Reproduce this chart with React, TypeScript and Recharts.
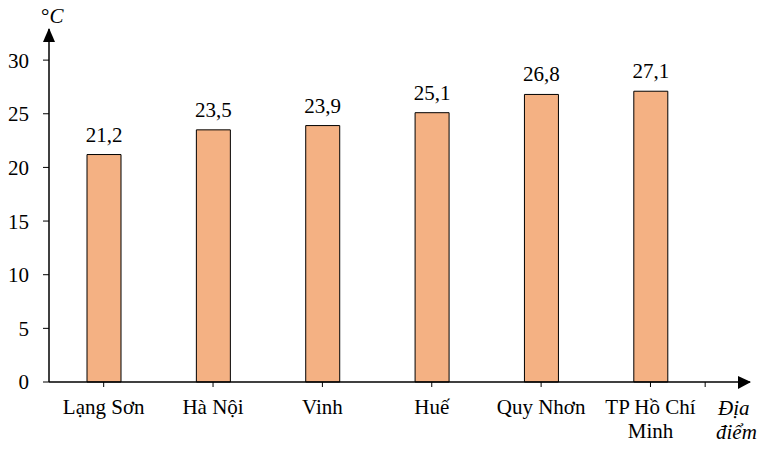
import { BarChart, Bar, XAxis, YAxis, LabelList } from 'recharts';

// Nhiệt độ trung bình năm (°C) tại một số địa điểm
const CATEGORIES = ['Lạng Sơn', 'Hà Nội', 'Vinh', 'Huế', 'Quy Nhơn', 'TP Hồ Chí Minh'];
const TEMPS = [21.2, 23.5, 23.9, 25.1, 26.8, 27.1];
const Y_TICKS = [0, 5, 10, 15, 20, 25, 30];
// tick cuối ở giữa khoảng trống sau cột cuối cùng
const X_TICKS = [0, 1, 2, 3, 4, 5, 5.5];

const FONT = 'Liberation Serif, Tinos, Times New Roman, DejaVu Serif, serif';
const FS = 21;
const BAR_COLOR = '#F4B183';

const data = CATEGORIES.map((name, i) => ({ idx: i, name, temp: TEMPS[i] }));

const CategoryTick = (props: any) => {
  const { x, y, payload } = props;
  const v = payload.value;
  if (!Number.isInteger(v) || !CATEGORIES[v]) return null;
  const name: string = CATEGORIES[v];
  // tách dòng cho tên dài
  const lines = name === 'TP Hồ Chí Minh' ? ['TP Hồ Chí', 'Minh'] : [name];
  return (
    <text x={x} y={y} textAnchor="middle" style={{ fontFamily: FONT, fontSize: FS }} fill="#000">
      {lines.map((l, i) => (
        <tspan key={i} x={x} dy={i === 0 ? 25 : 24}>
          {l}
        </tspan>
      ))}
    </text>
  );
};

export default function App() {
  return (
    <div style={{ position: 'absolute', left: 0, top: 0, width: 777, height: 449, background: '#fff' }}>
      <BarChart
        width={777}
        height={449}
        data={data}
        margin={{ top: 29, right: 27, bottom: 0, left: 0 }}
      >
        <XAxis
          type="number"
          dataKey="idx"
          domain={[-0.5, 5.91]}
          ticks={X_TICKS}
          interval={0}
          allowDecimals
          height={67}
          tickSize={5}
          tickMargin={2}
          axisLine={{ stroke: '#000', strokeWidth: 1.5 }}
          tickLine={{ stroke: '#000', strokeWidth: 1 }}
          tick={<CategoryTick />}
        />
        <YAxis
          type="number"
          domain={[0, 32.9]}
          ticks={Y_TICKS}
          interval={0}
          width={49}
          tickSize={6}
          tickMargin={14}
          axisLine={{ stroke: '#000', strokeWidth: 1.5 }}
          tickLine={{ stroke: '#000', strokeWidth: 1 }}
          tick={{ fill: '#000', style: { fontFamily: FONT, fontSize: FS } }}
        />
        <Bar
          dataKey="temp"
          barSize={34}
          fill={BAR_COLOR}
          stroke="#000"
          strokeWidth={1}
          isAnimationActive={false}
        >
          <LabelList
            dataKey="temp"
            position="top"
            offset={13}
            formatter={(v: any) => String(v).replace('.', ',')}
            style={{ fill: '#000', fontFamily: FONT, fontSize: FS }}
          />
        </Bar>
      </BarChart>
      {/* mũi tên trục và nhãn đơn vị */}
      <svg
        width={777}
        height={449}
        style={{ position: 'absolute', left: 0, top: 0, pointerEvents: 'none' }}
      >
        <polygon points="49,28 43,42 55,42" fill="#000" />
        <polygon points="751,382 738,376 738,389" fill="#000" />
        <text x={41} y={23} style={{ fontFamily: FONT, fontSize: FS }} fill="#000">
          <tspan>°</tspan>
          <tspan fontStyle="italic">C</tspan>
        </text>
        <text style={{ fontFamily: FONT, fontSize: FS, fontStyle: 'italic' }} fill="#000">
          <tspan x={718} y={415}>Địa</tspan>
          <tspan x={716} y={439}>điểm</tspan>
        </text>
      </svg>
    </div>
  );
}
